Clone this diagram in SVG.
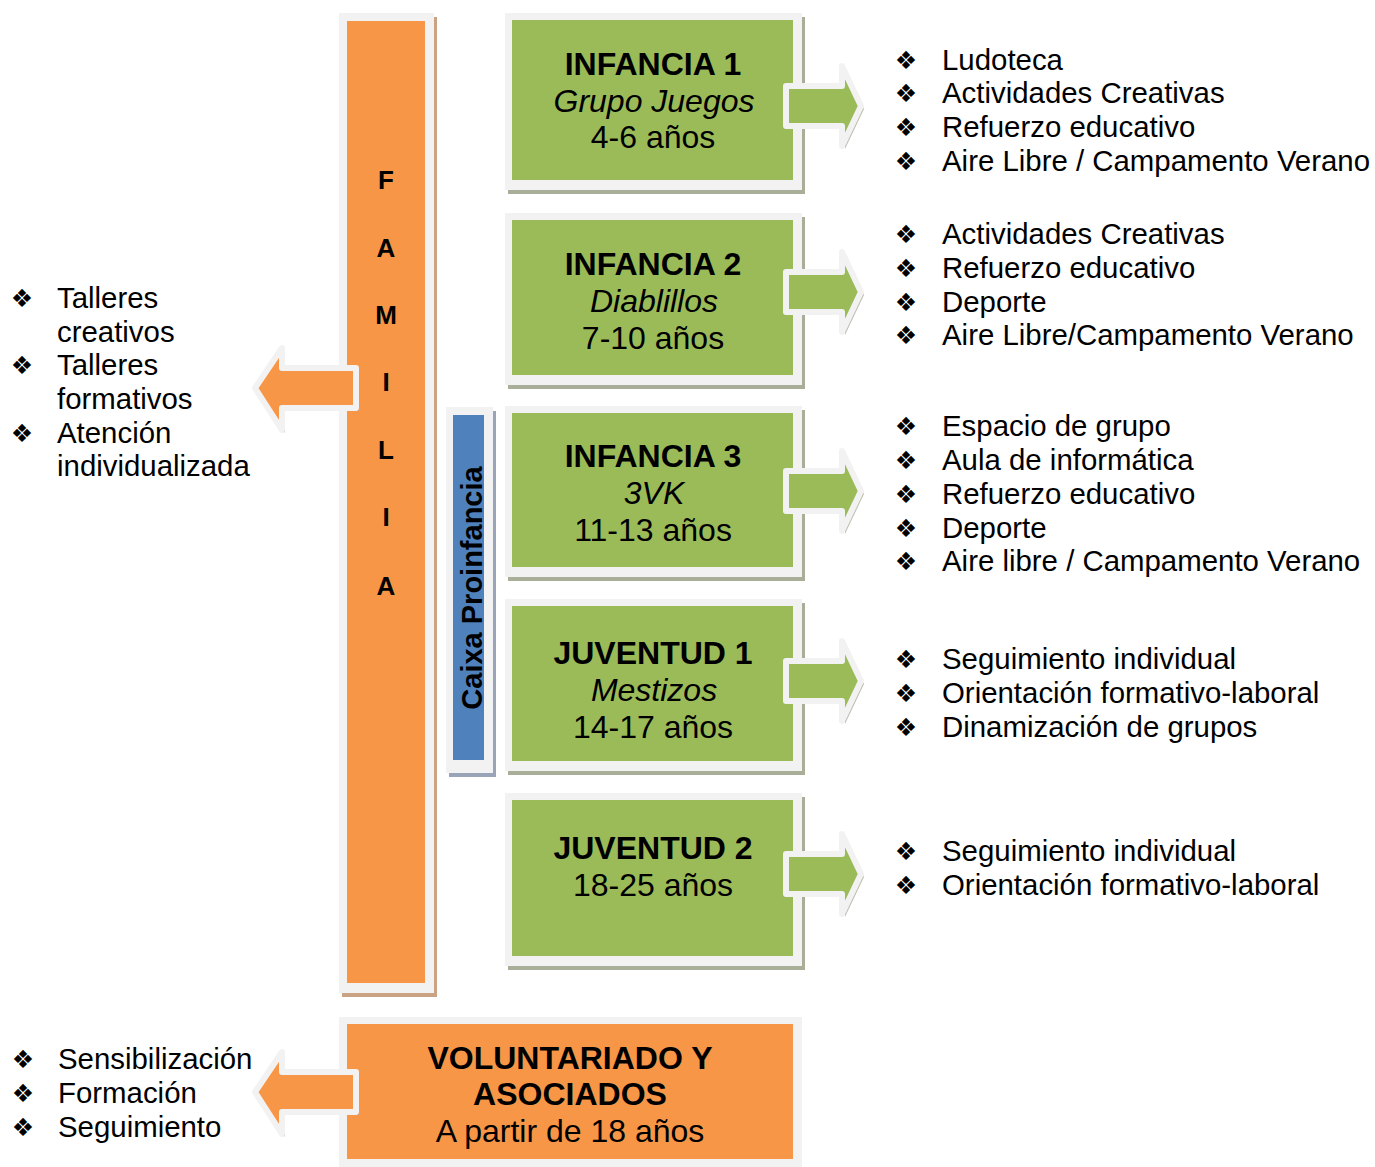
<svg xmlns="http://www.w3.org/2000/svg" width="1375" height="1167" viewBox="0 0 1375 1167">
<style>
.frame{fill:#f2f2f2}
.gshadow{fill:#a9ae98}
.oshadow{fill:#c9a384}
.bshadow{fill:#9aa4b8}
.green{fill:#9bbb59}
.orange{fill:#f79646}
.blue{fill:#4f81bd}
.t{font-family:"Liberation Sans",Arial,sans-serif;fill:#000}
.bt{font-size:32px;text-anchor:middle}
.b{font-weight:bold}
.i{font-style:italic}
.li{font-size:29.4px}
.bul{font-family:"DejaVu Sans",sans-serif;font-size:25px;text-anchor:middle;fill:#000}
.fam{font-size:26px;font-weight:bold;text-anchor:middle}
.arrG{fill:#9bbb59;stroke:#f2f2f2;stroke-width:6;stroke-linejoin:round}
.arrO{fill:#f79646;stroke:#f2f2f2;stroke-width:6;stroke-linejoin:round}
.ashG{fill:#9fa38e;opacity:0.7}
.ashO{fill:#c08a60;opacity:0.7}
</style>
<defs>
<path id="ra" d="M786,-20 H842 V-40 L861,0 L842,40 V20 H786 Z"/>
<path id="la" d="M356,-20 H282 V-40 L255,0 L282,42 V20 H356 Z"/>
</defs>

<g id="familia">
<rect class="oshadow" x="342" y="17" width="95" height="980"/>
<rect class="frame" x="339" y="13" width="95" height="980"/>
<rect class="orange" x="347" y="21" width="78" height="962"/>
<text class="t fam" x="386" y="189">F</text>
<text class="t fam" x="386" y="257">A</text>
<text class="t fam" x="386" y="324">M</text>
<text class="t fam" x="386" y="391">I</text>
<text class="t fam" x="386" y="459">L</text>
<text class="t fam" x="386" y="526">I</text>
<text class="t fam" x="386" y="595">A</text>
</g>

<g id="caixa">
<rect class="bshadow" x="449" y="411" width="47" height="366"/>
<rect class="frame" x="446" y="407" width="47" height="366"/>
<rect class="blue" x="453" y="415" width="31" height="345"/>
<text class="t b" font-size="29" text-anchor="middle" transform="translate(482,588) rotate(-90)">Caixa Proinfancia</text>
</g>

<g id="infancia1">
<rect class="gshadow" x="508" y="17" width="297" height="177"/>
<rect class="frame" x="505" y="13" width="297" height="177"/>
<rect class="green" x="512" y="20" width="281" height="160"/>
<text class="t bt b" x="653" y="75">INFANCIA 1</text>
<text class="t bt i" x="654" y="112">Grupo Juegos</text>
<text class="t bt" x="653" y="148">4-6 años</text>
</g>

<g id="infancia2">
<rect class="gshadow" x="508" y="217" width="297" height="172"/>
<rect class="frame" x="505" y="213" width="297" height="172"/>
<rect class="green" x="512" y="220" width="281" height="155"/>
<text class="t bt b" x="653" y="275">INFANCIA 2</text>
<text class="t bt i" x="654" y="312">Diablillos</text>
<text class="t bt" x="653" y="349">7-10 años</text>
</g>

<g id="infancia3">
<rect class="gshadow" x="508" y="410" width="297" height="171"/>
<rect class="frame" x="505" y="406" width="297" height="171"/>
<rect class="green" x="512" y="413" width="281" height="154"/>
<text class="t bt b" x="653" y="467">INFANCIA 3</text>
<text class="t bt i" x="654" y="504">3VK</text>
<text class="t bt" x="653" y="541">11-13 años</text>
</g>

<g id="juventud1">
<rect class="gshadow" x="508" y="603" width="297" height="172"/>
<rect class="frame" x="505" y="599" width="297" height="172"/>
<rect class="green" x="512" y="606" width="281" height="155"/>
<text class="t bt b" x="653" y="664">JUVENTUD 1</text>
<text class="t bt i" x="654" y="701">Mestizos</text>
<text class="t bt" x="653" y="738">14-17 años</text>
</g>

<g id="juventud2">
<rect class="gshadow" x="508" y="797" width="297" height="173"/>
<rect class="frame" x="505" y="793" width="297" height="173"/>
<rect class="green" x="512" y="800" width="281" height="156"/>
<text class="t bt b" x="653" y="859">JUVENTUD 2</text>
<text class="t bt" x="653" y="896">18-25 años</text>
</g>

<g id="voluntariado">
<rect class="frame" x="339" y="1017" width="463" height="150"/>
<rect class="orange" x="347" y="1024" width="446" height="135"/>
<text class="t bt b" x="570" y="1069">VOLUNTARIADO Y</text>
<text class="t bt b" x="570" y="1105">ASOCIADOS</text>
<text class="t bt" x="570" y="1142">A partir de 18 años</text>
</g>

<g id="connectors">
<use href="#ra" class="ashG" transform="translate(3,109)"/>
<use href="#ra" class="arrG" transform="translate(0,106)"/>
<use href="#ra" class="ashG" transform="translate(3,295)"/>
<use href="#ra" class="arrG" transform="translate(0,292)"/>
<use href="#ra" class="ashG" transform="translate(3,494)"/>
<use href="#ra" class="arrG" transform="translate(0,491)"/>
<use href="#ra" class="ashG" transform="translate(3,684)"/>
<use href="#ra" class="arrG" transform="translate(0,681)"/>
<use href="#ra" class="ashG" transform="translate(3,877)"/>
<use href="#ra" class="arrG" transform="translate(0,874)"/>
<use href="#la" class="ashO" transform="translate(3,391)"/>
<use href="#la" class="arrO" transform="translate(0,388)"/>
<use href="#la" class="ashO" transform="translate(3,1095)"/>
<use href="#la" class="arrO" transform="translate(0,1092)"/>
</g>

<g id="list1">
<text class="bul" x="906" y="69">❖</text><text class="t li" x="942" y="70">Ludoteca</text>
<text class="bul" x="906" y="102">❖</text><text class="t li" x="942" y="103">Actividades Creativas</text>
<text class="bul" x="906" y="136">❖</text><text class="t li" x="942" y="137">Refuerzo educativo</text>
<text class="bul" x="906" y="170">❖</text><text class="t li" x="942" y="171">Aire Libre / Campamento Verano</text>
</g>
<g id="list2">
<text class="bul" x="906" y="243">❖</text><text class="t li" x="942" y="244">Actividades Creativas</text>
<text class="bul" x="906" y="277">❖</text><text class="t li" x="942" y="278">Refuerzo educativo</text>
<text class="bul" x="906" y="311">❖</text><text class="t li" x="942" y="312">Deporte</text>
<text class="bul" x="906" y="344">❖</text><text class="t li" x="942" y="345">Aire Libre/Campamento Verano</text>
</g>
<g id="list3">
<text class="bul" x="906" y="435">❖</text><text class="t li" x="942" y="436">Espacio de grupo</text>
<text class="bul" x="906" y="469">❖</text><text class="t li" x="942" y="470">Aula de informática</text>
<text class="bul" x="906" y="503">❖</text><text class="t li" x="942" y="504">Refuerzo educativo</text>
<text class="bul" x="906" y="537">❖</text><text class="t li" x="942" y="538">Deporte</text>
<text class="bul" x="906" y="570">❖</text><text class="t li" x="942" y="571">Aire libre / Campamento Verano</text>
</g>
<g id="list4">
<text class="bul" x="906" y="668">❖</text><text class="t li" x="942" y="669">Seguimiento individual</text>
<text class="bul" x="906" y="702">❖</text><text class="t li" x="942" y="703">Orientación formativo-laboral</text>
<text class="bul" x="906" y="736">❖</text><text class="t li" x="942" y="737">Dinamización de grupos</text>
</g>
<g id="list5">
<text class="bul" x="906" y="860">❖</text><text class="t li" x="942" y="861">Seguimiento individual</text>
<text class="bul" x="906" y="894">❖</text><text class="t li" x="942" y="895">Orientación formativo-laboral</text>
</g>
<g id="listFamilia">
<text class="bul" x="22" y="307">❖</text><text class="t li" x="57" y="308">Talleres</text>
<text class="t li" x="57" y="342">creativos</text>
<text class="bul" x="22" y="374">❖</text><text class="t li" x="57" y="375">Talleres</text>
<text class="t li" x="57" y="409">formativos</text>
<text class="bul" x="22" y="442">❖</text><text class="t li" x="57" y="443">Atención</text>
<text class="t li" x="57" y="476">individualizada</text>
</g>
<g id="listVoluntariado">
<text class="bul" x="23" y="1068">❖</text><text class="t li" x="58" y="1069">Sensibilización</text>
<text class="bul" x="23" y="1102">❖</text><text class="t li" x="58" y="1103">Formación</text>
<text class="bul" x="23" y="1136">❖</text><text class="t li" x="58" y="1137">Seguimiento</text>
</g>
</svg>
